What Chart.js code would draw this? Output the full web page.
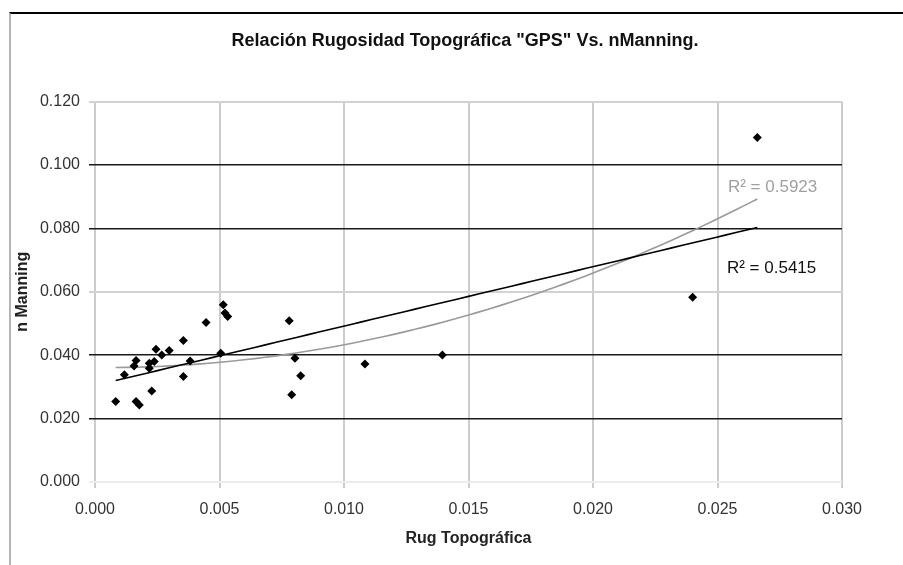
<!DOCTYPE html>
<html lang="es">
<head>
  <meta charset="UTF-8" />
  <title>Rugosidad vs nManning</title>
  <script src="https://cdn.jsdelivr.net/npm/chart.js"></script>
  <style>
    body {
      margin: 0;
      background: #fff;
      font-family: 'Liberation Sans', Arial, sans-serif;
    }
    .wrap {
      position: relative;
      width: 903px;
      height: 565px;
    }
    .frame {
      position: absolute;
      left: 9px;
      top: 12px;
      right: 0;
      bottom: 0;
      border-top: 2px solid #000;
      border-left: 2px solid #b4b4b4;
    }
    canvas {
      position: absolute;
      left: 0;
      top: 0;
    }
  </style>
</head>
<body>
  <div class="wrap">
    <div class="frame"></div>
    <canvas id="chart" width="903" height="565"></canvas>
  </div>

  <script>
    // measured points (Rug Topográfica, n Manning)
    const rugTopo = [0.00083, 0.00118, 0.00157, 0.00165, 0.00165, 0.00178, 0.00218, 0.00218, 0.00228, 0.00238,
                     0.00245, 0.00268, 0.00298, 0.00355, 0.00355, 0.00382, 0.00446, 0.00505, 0.00515, 0.00522,
                     0.00533, 0.0078, 0.0079, 0.00803, 0.00826, 0.01084, 0.01395, 0.0240, 0.0266];
    const nManning = [0.0254, 0.0338, 0.0366, 0.0383, 0.0254, 0.0243, 0.0375, 0.0359, 0.0287, 0.0380,
                      0.0419, 0.0401, 0.0415, 0.0446, 0.0333, 0.0382, 0.0503, 0.0406, 0.0559, 0.0533,
                      0.0522, 0.0509, 0.0275, 0.0390, 0.0335, 0.0372, 0.0401, 0.0583, 0.1087];

    // trend lines: [c0, c1, c2]
    const linearFit = [0.03044, 1.874];
    const polyFit = [0.03609, -0.0521, 77.16];
    const fitRange = [0.00083, 0.0266];
    const r2Labels = ['R² = 0.5415', 'R² = 0.5923'];

    const xTicks = [0, 0.005, 0.010, 0.015, 0.020, 0.025, 0.030];
    const yTicks = [0, 0.020, 0.040, 0.060, 0.080, 0.100, 0.120];
    const darkLines = [0.020, 0.040, 0.080, 0.100];

    const FONT = "'Liberation Sans', Arial, sans-serif";

    function fitPoints(coef) {
      const pts = [];
      const steps = 60;
      for (let i = 0; i <= steps; i++) {
        const x = fitRange[0] + (fitRange[1] - fitRange[0]) * i / steps;
        let y = 0;
        coef.forEach((c, k) => { y += c * Math.pow(x, k); });
        pts.push({ x, y });
      }
      return pts;
    }

    const isDark = v => darkLines.some(d => Math.abs(d - v) < 1e-6);

    const r2Plugin = {
      id: 'r2Plugin',
      afterDatasetsDraw(chart) {
        const { ctx, scales } = chart;
        ctx.save();
        ctx.font = '17px ' + FONT;
        ctx.textAlign = 'left';
        ctx.textBaseline = 'middle';
        ctx.fillStyle = '#111';
        ctx.fillText(r2Labels[0], scales.x.getPixelForValue(0.02538), scales.y.getPixelForValue(0.0673));
        ctx.fillStyle = '#a0a0a0';
        ctx.fillText(r2Labels[1], scales.x.getPixelForValue(0.02542), scales.y.getPixelForValue(0.0931));
        ctx.restore();
      }
    };

    const points = rugTopo.map((x, i) => ({ x, y: nManning[i] }));

    new Chart(document.getElementById('chart').getContext('2d'), {
      type: 'scatter',
      data: {
        datasets: [
          {
            label: 'nManning',
            data: points,
            pointStyle: 'rectRot',
            pointRadius: 4.5,
            backgroundColor: '#000',
            borderColor: '#000',
            borderWidth: 0
          },
          {
            label: 'Lineal',
            data: fitPoints(linearFit),
            showLine: true,
            pointRadius: 0,
            borderColor: '#000',
            borderWidth: 1.6
          },
          {
            label: 'Polinómica',
            data: fitPoints(polyFit),
            showLine: true,
            pointRadius: 0,
            borderColor: '#9a9a9a',
            borderWidth: 1.6
          }
        ]
      },
      options: {
        responsive: false,
        animation: false,
        layout: { padding: { left: 27, right: 0, top: 0, bottom: 0 } },
        plugins: {
          legend: { display: false },
          tooltip: { enabled: false },
          title: {
            display: true,
            text: 'Relación Rugosidad Topográfica "GPS" Vs. nManning.',
            color: '#111',
            font: { family: FONT, size: 18, weight: 'bold' },
            padding: { top: 30, bottom: 50 }
          }
        },
        scales: {
          x: {
            type: 'linear',
            min: 0,
            max: 0.03,
            afterBuildTicks: s => { s.ticks = xTicks.map(v => ({ value: v })); },
            afterFit: s => { s.height = 83; },
            ticks: {
              color: '#333',
              padding: 12,
              font: { family: FONT, size: 16 },
              callback: v => v.toFixed(3)
            },
            grid: { color: '#cccccc', lineWidth: 2, tickLength: 6 },
            border: { display: false },
            title: {
              display: true,
              text: 'Rug Topográfica',
              color: '#222',
              font: { family: FONT, size: 16, weight: 'bold' },
              padding: { top: 0, bottom: 17 }
            }
          },
          y: {
            type: 'linear',
            min: 0,
            max: 0.12,
            afterBuildTicks: s => { s.ticks = yTicks.map(v => ({ value: v })); },
            afterFit: s => { s.width = 68; },
            ticks: {
              color: '#333',
              padding: 9,
              font: { family: FONT, size: 16 },
              callback: v => v.toFixed(3)
            },
            grid: {
              tickLength: 6,
              color: c => {
                const v = c.tick ? c.tick.value : 0;
                if (isDark(v)) return '#1a1a1a';
                if (Math.abs(v) < 1e-6) return '#ececec';
                return '#d2d2d2';
              },
              lineWidth: c => (c.tick && isDark(c.tick.value)) ? 1.5 : 2
            },
            border: { display: false },
            title: {
              display: true,
              text: 'n Manning',
              color: '#222',
              font: { family: FONT, size: 16, weight: 'bold' },
              padding: { top: -14, bottom: 0 }
            }
          },
          yRight: {
            type: 'linear',
            position: 'right',
            min: 0,
            max: 0.12,
            afterFit: s => { s.width = 61; },
            ticks: { display: false },
            grid: { display: false },
            border: { display: false }
          }
        }
      },
      plugins: [r2Plugin]
    });
  </script>
</body>
</html>
